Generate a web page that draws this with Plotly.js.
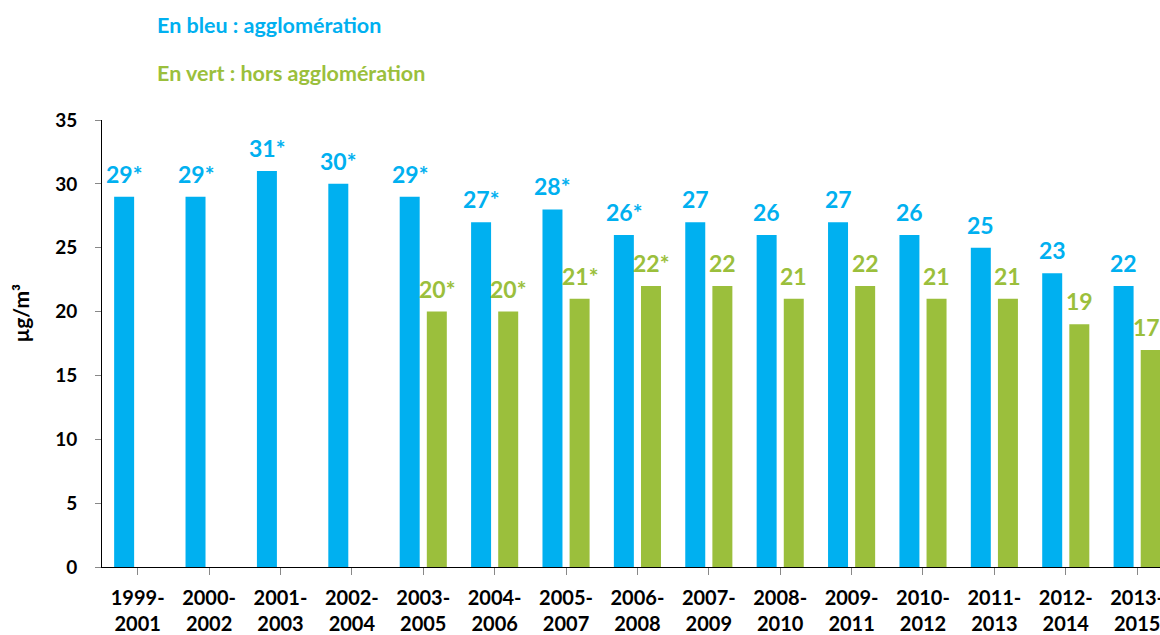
<!DOCTYPE html>
<html>
<head>
<meta charset="utf-8">
<script src="https://cdn.plot.ly/plotly-3.0.1.min.js"></script>
<style>html,body{margin:0;padding:0;background:#fff;}#chart{width:1160px;height:635px;}</style>
</head>
<body>
<div id="chart"></div>
<script>
const categories = ["1999-<br>2001","2000-<br>2002","2001-<br>2003","2002-<br>2004","2003-<br>2005","2004-<br>2006","2005-<br>2007","2006-<br>2008","2007-<br>2009","2008-<br>2010","2009-<br>2011","2010-<br>2012","2011-<br>2013","2012-<br>2014","2013-<br>2015"];
const blueValues = [29,29,31,30,29,27,28,26,27,26,27,26,25,23,22];
const greenValues = [null,null,null,null,20,20,21,22,22,21,22,21,21,19,17];
const blueLabels = ["29*","29*","31*","30*","29*","27*","28*","26*","27","26","27","26","25","23","22"];
const greenLabels = ["","","","","20*","20*","21*","22*","22","21","22","21","21","19","17"];

const BLUE = "#00B0F0";
const GREEN = "#9BBF3C";
const FONT = "Lato, 'Open Sans', sans-serif";
const idx = categories.map((_, i) => i);
const BAR_W = 0.28, BLUE_OFF = -0.33, GREEN_OFF = 0.05;

const traces = [
  {type:"bar", x:idx, y:blueValues, marker:{color:BLUE}, width:BAR_W, offset:BLUE_OFF, hoverinfo:"skip"},
  {type:"bar", x:idx, y:greenValues, marker:{color:GREEN}, width:BAR_W, offset:GREEN_OFF, hoverinfo:"skip"}
];

const labelAnn = [];
function addLabels(values, labels, off, color) {
  values.forEach((v, i) => {
    if (v === null || !labels[i]) return;
    const last = (i === values.length - 1) && off > 0;
    labelAnn.push({xref:"x", yref:"y", x:i + off + BAR_W/2, y:v,
      xanchor:"center", yanchor:"bottom", xshift: last ? -4 : 0,
      yshift:7, text:labels[i], showarrow:false,
      font:{family:FONT, size:23, color:color, weight:"bold"}});
  });
}
addLabels(blueValues, blueLabels, BLUE_OFF, BLUE);
addLabels(greenValues, greenLabels, GREEN_OFF, GREEN);

const layout = {
  width:1160, height:635,
  margin:{l:102, r:0, t:120, b:68},
  paper_bgcolor:"#fff", plot_bgcolor:"#fff",
  showlegend:false,
  barmode:"overlay",
  font:{family:FONT, color:"#000"},
  xaxis:{
    range:[-0.5, 14.32], tickmode:"array", tickvals:idx, ticktext:categories,
    tickson:"boundaries", ticks:"outside", ticklen:7, tickcolor:"#888",
    ticklabeloverflow:"allow", ticklabelstandoff:6,
    showline:true, linecolor:"#000", linewidth:1, showgrid:false, zeroline:false,
    tickfont:{family:FONT, size:20, color:"#000", weight:"bold"}, fixedrange:true
  },
  yaxis:{
    range:[0,35], dtick:5, ticks:"outside", ticklen:6, tickcolor:"#888",
    ticklabelstandoff:14,
    showline:true, linecolor:"#000", linewidth:1, showgrid:false, zeroline:false,
    tickfont:{family:FONT, size:19, color:"#000", weight:"bold"},
    fixedrange:true
  },
  annotations:[
    {xref:"paper", yref:"paper", x:0.05, y:1.2126, xanchor:"left", yanchor:"middle",
     text:"En bleu : agglomération", showarrow:false,
     font:{family:FONT, size:21.5, color:BLUE, weight:"bold"}},
    {xref:"paper", yref:"paper", x:0.05, y:1.105, xanchor:"left", yanchor:"middle",
     text:"En vert : hors agglomération", showarrow:false,
     font:{family:FONT, size:21.5, color:GREEN, weight:"bold"}},
    {xref:"paper", yref:"paper", x:-0.0766, y:0.569, xanchor:"center", yanchor:"middle",
     text:"µg/m³", textangle:-90, showarrow:false,
     font:{family:FONT, size:21, color:"#000", weight:"bold"}}
  ].concat(labelAnn)
};

Plotly.newPlot("chart", traces, layout, {displayModeBar:false, staticPlot:true});
</script>
</body>
</html>
